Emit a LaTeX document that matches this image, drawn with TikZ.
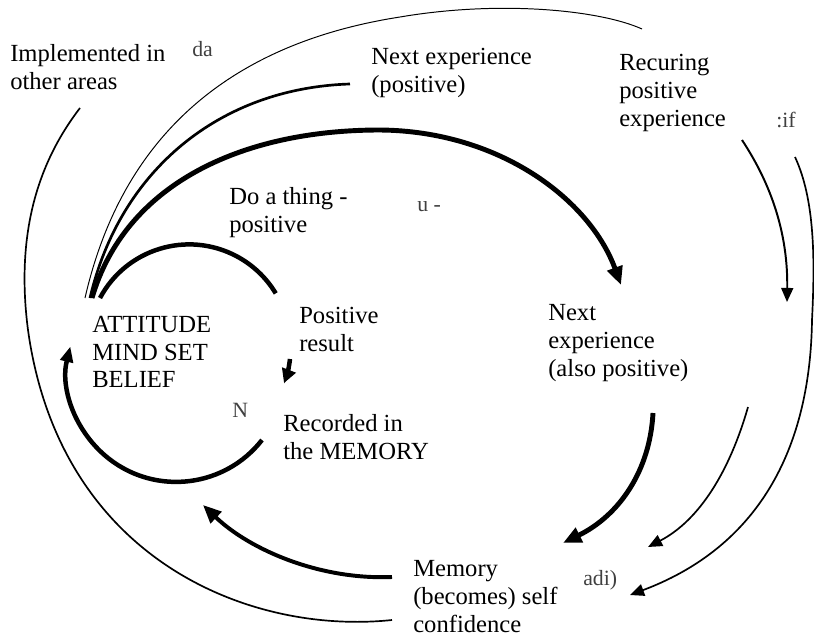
\documentclass[tikz,border=0pt]{standalone}
\usepackage{fontspec}
\setmainfont{Liberation Serif}
\usetikzlibrary{arrows.meta,positioning}

\begin{document}
\begin{tikzpicture}[x=0.025cm, y=-0.025cm,
    lbl/.style={anchor=north west, inner sep=0pt, align=left, font=\fontsize{17.5}{19.9}\selectfont},
    scrap/.style={anchor=base west, inner sep=0pt, text=black!75, font=\fontsize{15.5}{18}\selectfont},
    ring/.style={line width=3.2pt},
    heavy/.style={line width=3.5pt},
    medium/.style={line width=1.9pt},
    fine/.style={line width=1.2pt},
    hair/.style={line width=0.7pt},
    >={Triangle[length=10pt,width=8.5pt]}]
    \useasboundingbox (0,0) rectangle (814,637);

    % texts
    \node (implemented) [lbl] at (10,44.5) {Implemented in\\other areas};
    \node (nextpos) [lbl] at (371,47.5) {Next experience\\(positive)};
    \node (recuring) [lbl] at (619,54) {Recuring\\positive\\experience};
    \node (dothing) [lbl] at (229,187.5) {Do a thing -\\positive};
    \node (attitude) [lbl] at (92,315.5) {ATTITUDE\\MIND SET\\BELIEF};
    \node (posres) [lbl] at (299,306.5) {Positive\\result};
    \node (recorded) [lbl] at (283,414.5) {Recorded in\\the MEMORY};
    \node (nextalso) [lbl] at (548,304.5) {Next\\experience\\(also positive)};
    \node (memory) [lbl] at (413,560.5) {Memory\\(becomes) self\\confidence};

    % leftover scraps
    \node (scrapda) [scrap] at (192,57) {da};
    \node (scrapif) [scrap] at (776,127) {:if};
    \node (scrapu) [scrap] at (417,211) {u -};
    \node (scrapn) [scrap] at (232,417) {N};
    \node (scrapadi) [scrap] at (583,585) {adi)};

    % free ends
    \coordinate (ringA) at (100,298);
    \coordinate (ringR) at (290,359);
    \coordinate (ringB) at (262,440);
    \coordinate (rootB) at (92,298);
    \coordinate (rootC) at (90,298);
    \coordinate (rootD) at (85,298);
    \coordinate (nextposEnd) at (350,84);
    \coordinate (recuringEnd) at (642,29);
    \coordinate (nextalsoTip) at (621,285);
    \coordinate (implEnd) at (80,108);
    \coordinate (memA) at (392,620);
    \coordinate (memB) at (392,577);
    \coordinate (attIn) at (203,505);
    \coordinate (recA) at (742,140);
    \coordinate (recAtip) at (787,302);
    \coordinate (recB) at (795,157);
    \coordinate (memTipB) at (630,595);
    \coordinate (alsoA) at (748,407);
    \coordinate (memTipA) at (648,547);
    \coordinate (alsoB) at (653,413);
    \coordinate (memTip) at (563,543);

    % inner loop
    \draw [ring] (ringA) arc [start angle=-152, end angle=-31, radius=101];
    \draw [ring, ->, >={Triangle[length=10pt,width=10pt]}] (ringR) arc [start angle=7, end angle=21, radius=102];
    \draw [ring, ->, >={Triangle[length=11pt,width=9pt]}] (ringB) arc [start angle=38, end angle=194, radius=109];

    % big arcs out of the attitude
    \draw [hair] (rootD) .. controls (120,145) and (220,45) .. (400,17) .. controls (500,0) and (600,10) .. (recuringEnd);
    \draw [medium] (rootC) .. controls (120,170) and (220,88) .. (nextposEnd);
    \draw [heavy, ->, >={Triangle[length=13pt,width=11pt]}] (rootB) .. controls (125,185) and (240,130) .. (380,130) .. controls (500,131) and (590,200) .. (nextalsoTip);

    % back from the memory
    \draw [fine] (memA) .. controls (250,635) and (60,560) .. (28,330) .. controls (15,230) and (40,160) .. (implEnd);
    \draw [line width=2.8pt, ->, >={Triangle[length=13pt,width=11pt]}] (memB) .. controls (320,580) and (250,550) .. (attIn);

    % right side
    \draw [line width=1.4pt, ->] (recA) .. controls (775,190) and (788,240) .. (recAtip);
    \draw [fine, ->] (recB) .. controls (815,200) and (815,260) .. (812,320) .. controls (810,460) and (750,550) .. (memTipB);
    \draw [fine, ->] (alsoA) .. controls (730,470) and (700,520) .. (memTipA);
    \draw [heavy, ->, >={Triangle[length=13pt,width=11pt]}] (alsoB) .. controls (650,470) and (620,515) .. (memTip);
\end{tikzpicture}
\end{document}
